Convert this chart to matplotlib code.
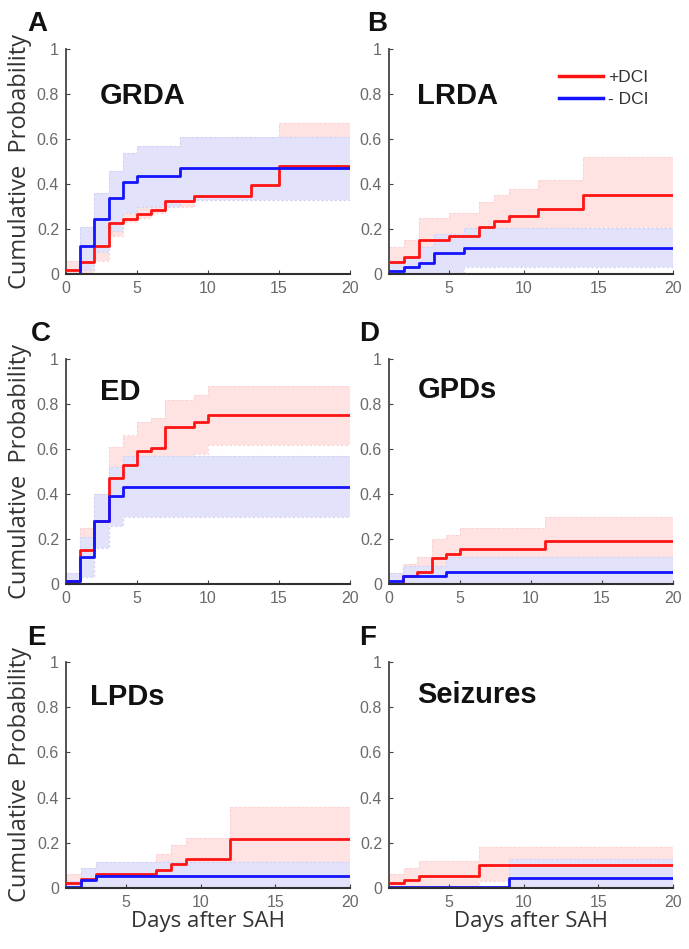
import matplotlib
matplotlib.use("Agg")
import matplotlib.pyplot as plt
from matplotlib.lines import Line2D

# ── Data ─────────────────────────────────────────────────────────────────────
# A: GRDA
A_RED_DAYS = [0, 1, 2, 3, 4, 5, 6, 7, 9, 13, 15]
A_RED = [0.02, 0.055, 0.125, 0.225, 0.245, 0.265, 0.285, 0.325, 0.345, 0.395, 0.48]
A_RED_LO = [0.0, 0.0, 0.06, 0.17, 0.23, 0.25, 0.27, 0.30, 0.33, 0.33, 0.33]
A_RED_HI = [0.06, 0.13, 0.23, 0.35, 0.37, 0.39, 0.41, 0.45, 0.47, 0.53, 0.67]
A_BLUE_DAYS = [0, 1, 2, 3, 4, 5, 8]
A_BLUE = [0.0, 0.125, 0.245, 0.34, 0.41, 0.435, 0.47]
A_BLUE_LO = [0.0, 0.02, 0.10, 0.19, 0.27, 0.30, 0.33]
A_BLUE_HI = [0.0, 0.21, 0.36, 0.46, 0.54, 0.57, 0.61]

# B: LRDA
B_RED_DAYS = [1, 2, 3, 5, 7, 8, 9, 11, 14]
B_RED = [0.055, 0.075, 0.15, 0.17, 0.21, 0.235, 0.26, 0.29, 0.35]
B_RED_LO = [0.01, 0.02, 0.07, 0.08, 0.11, 0.13, 0.15, 0.17, 0.21]
B_RED_HI = [0.12, 0.15, 0.25, 0.27, 0.32, 0.35, 0.38, 0.42, 0.52]
B_BLUE_DAYS = [1, 2, 3, 4, 6]
B_BLUE = [0.015, 0.03, 0.05, 0.095, 0.115]
B_BLUE_LO = [0.0, 0.0, 0.0, 0.005, 0.03]
B_BLUE_HI = [0.05, 0.07, 0.12, 0.18, 0.205]

# C: ED
C_RED_DAYS = [0, 1, 2, 3, 4, 5, 6, 7, 9, 10]
C_RED = [0.015, 0.15, 0.28, 0.47, 0.53, 0.59, 0.605, 0.70, 0.72, 0.75]
C_RED_LO = [0.0, 0.06, 0.17, 0.33, 0.39, 0.45, 0.47, 0.56, 0.58, 0.62]
C_RED_HI = [0.045, 0.25, 0.40, 0.61, 0.66, 0.72, 0.74, 0.82, 0.84, 0.88]
C_BLUE_DAYS = [0, 1, 2, 3, 4]
C_BLUE = [0.015, 0.12, 0.28, 0.39, 0.43]
C_BLUE_LO = [0.0, 0.03, 0.16, 0.26, 0.30]
C_BLUE_HI = [0.05, 0.21, 0.40, 0.52, 0.57]

# D: GPDs
D_RED_DAYS = [0, 1, 2, 3, 4, 5, 11]
D_RED = [0.0, 0.035, 0.055, 0.115, 0.135, 0.155, 0.19]
D_RED_LO = [0.0, 0.0, 0.01, 0.03, 0.05, 0.06, 0.09]
D_RED_HI = [0.0, 0.09, 0.12, 0.20, 0.22, 0.25, 0.30]
D_BLUE_DAYS = [0, 1, 4]
D_BLUE = [0.015, 0.035, 0.055]
D_BLUE_LO = [0.0, 0.0, 0.005]
D_BLUE_HI = [0.05, 0.08, 0.12]

# E: LPDs
E_RED_DAYS = [1, 2, 3, 7, 8, 9, 12]
E_RED = [0.02, 0.04, 0.06, 0.08, 0.105, 0.13, 0.215]
E_RED_LO = [0.0, 0.0, 0.01, 0.02, 0.03, 0.04, 0.09]
E_RED_HI = [0.06, 0.08, 0.11, 0.15, 0.19, 0.22, 0.36]
E_BLUE_DAYS = [1, 2, 3]
E_BLUE = [0.005, 0.035, 0.055]
E_BLUE_LO = [0.0, 0.0, 0.005]
E_BLUE_HI = [0.03, 0.09, 0.115]

# F: Seizures
F_RED_DAYS = [1, 2, 3, 7]
F_RED = [0.02, 0.035, 0.055, 0.10]
F_RED_LO = [0.0, 0.0, 0.01, 0.03]
F_RED_HI = [0.06, 0.09, 0.12, 0.18]
F_BLUE_DAYS = [1, 9]
F_BLUE = [0.003, 0.045]
F_BLUE_LO = [0.0, 0.005]
F_BLUE_HI = [0.0, 0.13]

# ── Style ────────────────────────────────────────────────────────────────────
RED = "#ff1414"
BLUE = "#1414ff"
RED_BAND = "#ffe2e2"
BLUE_BAND = "#e2e2fb"
RED_EDGE = "#fbd2d2"
BLUE_EDGE = "#d2d2f6"
TICK_COLOR = "#6a6a6a"
X_END = 20

PANELS = [
    ("A", "GRDA", 0, (0.12, 0.79),
     (A_RED_DAYS, A_RED, A_RED_LO, A_RED_HI), (A_BLUE_DAYS, A_BLUE, A_BLUE_LO, A_BLUE_HI)),
    ("B", "LRDA", 1, (0.10, 0.79),
     (B_RED_DAYS, B_RED, B_RED_LO, B_RED_HI), (B_BLUE_DAYS, B_BLUE, B_BLUE_LO, B_BLUE_HI)),
    ("C", "ED", 0, (0.12, 0.853),
     (C_RED_DAYS, C_RED, C_RED_LO, C_RED_HI), (C_BLUE_DAYS, C_BLUE, C_BLUE_LO, C_BLUE_HI)),
    ("D", "GPDs", 0, (0.10, 0.862),
     (D_RED_DAYS, D_RED, D_RED_LO, D_RED_HI), (D_BLUE_DAYS, D_BLUE, D_BLUE_LO, D_BLUE_HI)),
    ("E", "LPDs", 1, (0.085, 0.845),
     (E_RED_DAYS, E_RED, E_RED_LO, E_RED_HI), (E_BLUE_DAYS, E_BLUE, E_BLUE_LO, E_BLUE_HI)),
    ("F", "Seizures", 1, (0.10, 0.854),
     (F_RED_DAYS, F_RED, F_RED_LO, F_RED_HI), (F_BLUE_DAYS, F_BLUE, F_BLUE_LO, F_BLUE_HI)),
]

# canvas layout in pixels (689x949)
W, H = 689, 949
COL_LEFT = [66, 389]
ROWS = [(49, 274), (359, 584), (662, 888)]
AX_W = 284
LETTER_POS = {"A": (27, 24), "B": (367, 24), "C": (31, 334),
              "D": (359, 334), "E": (27, 638), "F": (359, 638)}


def extend(days, vals):
    return list(days) + [X_END], list(vals) + [vals[-1]]


def draw_band(ax, days, lo, hi, face, edge, z):
    x, lo_e = extend(days, lo)
    _, hi_e = extend(days, hi)
    ax.fill_between(x, lo_e, hi_e, step="post", color=face, linewidth=0, zorder=z)
    for edge_vals in (hi_e, lo_e):
        ax.step(x, edge_vals, where="post", color=edge, linewidth=0.8,
                linestyle=(0, (2, 2)), zorder=z + 0.1)


fig = plt.figure(figsize=(W / 100, H / 100), dpi=100)

for i, (letter, name, xstart, title_pos, red, blue) in enumerate(PANELS):
    col = i % 2
    top, bottom = ROWS[i // 2]
    ax = fig.add_axes([COL_LEFT[col] / W, 1 - bottom / H, AX_W / W, (bottom - top) / H])

    draw_band(ax, red[0], red[2], red[3], RED_BAND, RED_EDGE, 1.0)
    draw_band(ax, blue[0], blue[2], blue[3], BLUE_BAND, BLUE_EDGE, 1.5)

    x, y = extend(red[0], red[1])
    ax.step(x, y, where="post", color=RED, linewidth=2.0, zorder=4)
    x, y = extend(blue[0], blue[1])
    ax.step(x, y, where="post", color=BLUE, linewidth=2.0, zorder=5)

    ax.set_xlim(xstart, X_END)
    ax.set_ylim(0, 1)
    ax.set_xticks([t for t in [0, 5, 10, 15, 20] if t >= xstart])
    ax.set_yticks([0, 0.2, 0.4, 0.6, 0.8, 1])
    ax.set_yticklabels(["0", "0.2", "0.4", "0.6", "0.8", "1"])
    ax.tick_params(direction="in", length=3, width=0.8, color="#444444",
                   labelcolor=TICK_COLOR, labelsize=11.5, pad=5)
    for lab in ax.get_xticklabels() + ax.get_yticklabels():
        lab.set_fontfamily("Liberation Sans")
    ax.spines["top"].set_visible(False)
    ax.spines["right"].set_visible(False)
    ax.spines["left"].set_color("#444444")
    ax.spines["left"].set_linewidth(1.3)
    ax.spines["bottom"].set_color("#303030")
    ax.spines["bottom"].set_linewidth(1.5)
    ax.spines["bottom"].set_zorder(6)
    ax.patch.set_alpha(0)

    ax.text(title_pos[0], title_pos[1], name, transform=ax.transAxes,
            fontsize=21, fontweight="bold", family="Liberation Sans",
            ha="left", va="center", color="#111111")

    lx, ly = LETTER_POS[letter]
    fig.text(lx / W, 1 - ly / H, letter, fontsize=20, fontweight="bold",
             family="Liberation Sans", ha="left", va="center", color="#111111")

    if col == 0:
        fig.text(20 / W, 1 - (top + bottom) / 2 / H, "Cumulative  Probability",
                 rotation=90, fontsize=17, family="Open Sans", color="#333333",
                 ha="center", va="center")
    if i // 2 == 2:
        ax.set_xlabel("Days after SAH", fontsize=16, family="Open Sans",
                      color="#333333", labelpad=1)

    if letter == "B":
        handles = [Line2D([], [], color=RED, linewidth=2.5),
                   Line2D([], [], color=BLUE, linewidth=2.5)]
        leg = ax.legend(handles, ["+DCI", "- DCI"], loc="upper left",
                        bbox_to_anchor=(0.545, 0.975), frameon=False,
                        handlelength=2.5, handletextpad=0.3, labelspacing=0.35,
                        prop={"family": "Liberation Sans", "size": 12.5})
        for t in leg.get_texts():
            t.set_color("#333333")

fig.savefig("out.png", dpi=100)
